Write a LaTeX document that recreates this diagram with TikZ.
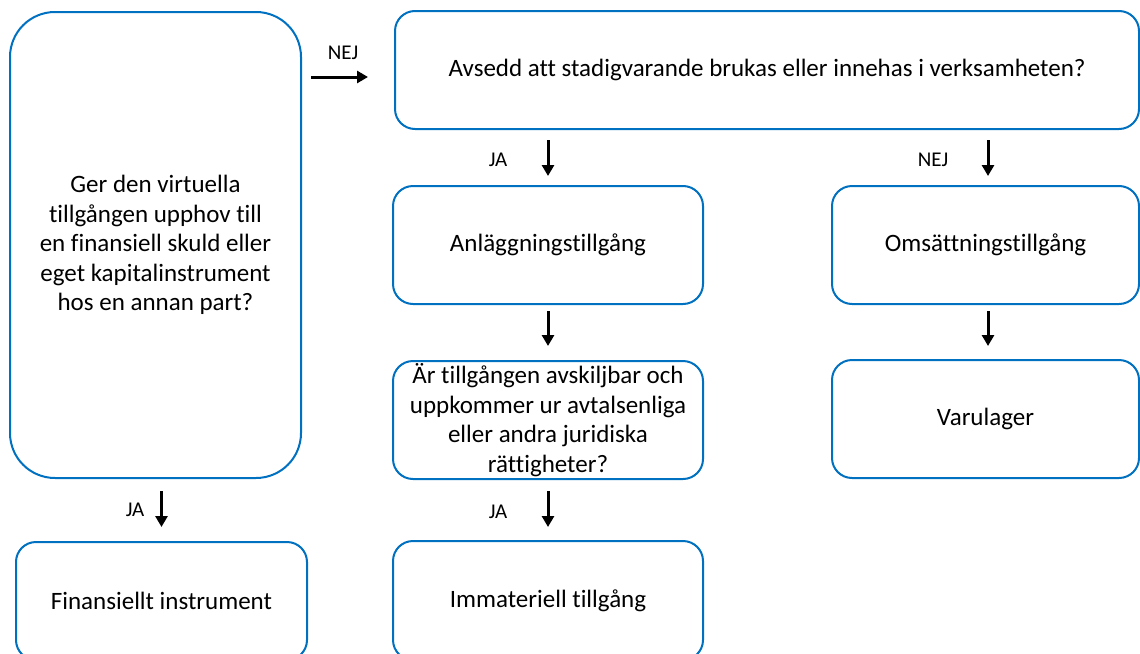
\documentclass[tikz,border=0pt]{standalone}
\usepackage{fontspec}
\setmainfont{Carlito}[Ligatures={NoCommon,NoContextual,NoRare}]
\usetikzlibrary{arrows.meta}
\definecolor{boxblue}{RGB}{0,112,192}
\tikzset{
  box/.style={draw=boxblue, line width=2pt, rounded corners=20pt, inner sep=0pt,
    align=center, font=\fontsize{25}{29.5}\selectfont, text=black},
  lbl/.style={inner sep=0pt, font=\fontsize{21}{24}\selectfont},
  arr/.style={line width=3pt, -{Triangle[length=11pt,width=12pt]}}
}
\begin{document}
\begin{tikzpicture}[x=1pt,y=-1pt]
\useasboundingbox (0,0) rectangle (1140,653);
\clip (0,0) rectangle (1140,653);
\node[box, rounded corners=45pt, minimum width=291pt, minimum height=466pt] (A) at (155.5,245)
  {Ger den virtuella\\tillgången upphov till\\en finansiell skuld eller\\eget kapitalinstrument\\hos en annan part?};
\node[box, minimum width=744pt, minimum height=118pt] (B) at (767,70)
  {Avsedd att stadigvarande brukas eller innehas i verksamheten?};
\node[box, minimum width=310pt, minimum height=118pt] (Anl) at (548,245) {Anläggningstillgång};
\node[box, minimum width=310pt, minimum height=118pt] (Ar) at (548,420)
  {Är tillgången avskiljbar och\\uppkommer ur avtalsenliga\\eller andra juridiska\\rättigheter?};
\node[box, minimum width=310pt, minimum height=119pt] (Imm) at (548,600.5) {Immateriell tillgång};
\node[box, minimum width=307pt, minimum height=118pt] (Oms) at (985.5,245) {Omsättningstillgång};
\node[box, minimum width=307pt, minimum height=118pt] (Var) at (985.5,419) {Varulager};
\node[box, minimum width=291pt, minimum height=118pt] (Fin) at (161.5,601) {Finansiellt instrument};

\node[lbl] (l1) at (343,53) {NEJ};
\node[lbl] (l2) at (498,160) {JA};
\node[lbl] (l3) at (933,160) {NEJ};
\node[lbl] (l4) at (498,512) {JA};
\node[lbl] (l5) at (135,510) {JA};

\draw[arr] ([shift={(9pt,-7pt)}]A.east |- B.west) -- ([shift={(-26pt,-7pt)}]B.west);
\draw[arr, shorten <=10pt, shorten >=9pt] (Anl.north |- B.south) -- (Anl.north);
\draw[arr, shorten <=10pt, shorten >=9pt] ([xshift=2.5pt]Oms.north |- B.south) -- ([xshift=2.5pt]Oms.north);
\draw[arr, shorten <=6pt, shorten >=14pt] (Anl.south) -- (Ar.north);
\draw[arr, shorten <=6pt, shorten >=13pt] ([xshift=2.5pt]Oms.south) -- ([xshift=2.5pt]Var.north);
\draw[arr, shorten <=11pt, shorten >=13pt] (Ar.south) -- (Imm.north);
\draw[arr, shorten <=12pt, shorten >=14pt] (Fin.north |- A.south) -- (Fin.north);
\end{tikzpicture}
\end{document}
